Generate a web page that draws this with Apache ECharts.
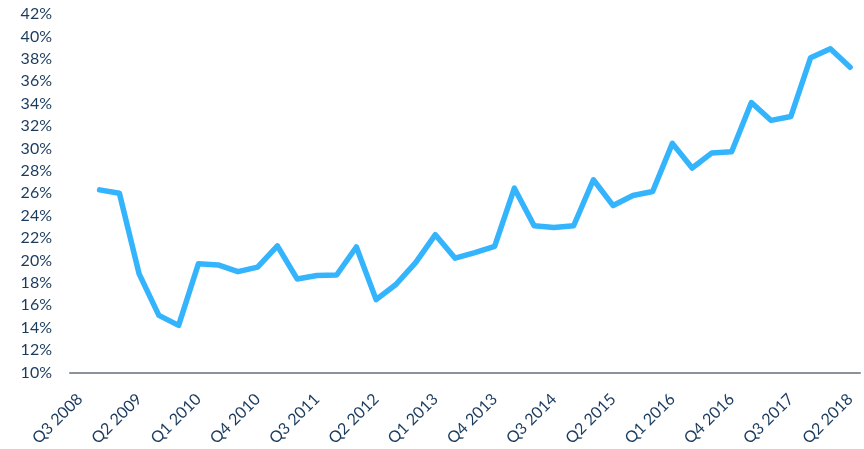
<!DOCTYPE html>
<html><head><meta charset="utf-8">
<script src="https://cdn.jsdelivr.net/npm/echarts@6/dist/echarts.min.js"></script>
<style>html,body{margin:0;padding:0;background:#fff}#c{width:864px;height:449px}</style>
</head><body><div id="c"></div>
<script>
var quarters = [];
(function(){
  var qs = ['Q1','Q2','Q3','Q4'];
  for (var y = 2008; y <= 2018; y++) for (var q = 0; q < 4; q++) {
    if (y === 2008 && q < 2) continue;
    if (y === 2018 && q > 1) continue;
    quarters.push(qs[q] + ' ' + y);
  }
})();
var values = [null,26.3,26.0,18.8,15.1,14.2,19.7,19.6,19.0,19.4,21.3,18.35,18.65,18.7,21.2,
  16.5,17.85,19.8,22.3,20.2,20.7,21.25,26.45,23.1,22.95,23.1,27.2,24.9,25.8,26.15,
  30.45,28.25,29.6,29.7,34.1,32.5,32.85,38.1,38.9,37.25];
var yTicks = [10,12,14,16,18,20,22,24,26,28,30,32,34,36,38,40,42];

var textColor = '#1a3b5e';
var chart = echarts.init(document.getElementById('c'));
chart.setOption({
  animation: false,
  grid: {left: 70, right: 4, top: 14, bottom: 76, containLabel: false},
  xAxis: {
    type: 'category', data: quarters, boundaryGap: true,
    axisLine: {lineStyle: {color: '#8c929a', width: 2}},
    axisTick: {show: false},
    axisLabel: {interval: 2, rotate: 45, color: textColor, fontFamily: 'Lato', fontSize: 16, margin: 24}
  },
  yAxis: {
    type: 'value', min: yTicks[0], max: yTicks[yTicks.length-1], interval: 2,
    axisLine: {show: false}, axisTick: {show: false}, splitLine: {show: false},
    axisLabel: {color: textColor, fontFamily: 'Lato', fontSize: 16, margin: 18, formatter: '{value}%'}
  },
  series: [{
    type: 'line', data: values, showSymbol: false, connectNulls: false,
    lineStyle: {color: '#34b4fc', width: 5.5, cap: 'round', join: 'round'}
  }]
});
</script></body></html>
